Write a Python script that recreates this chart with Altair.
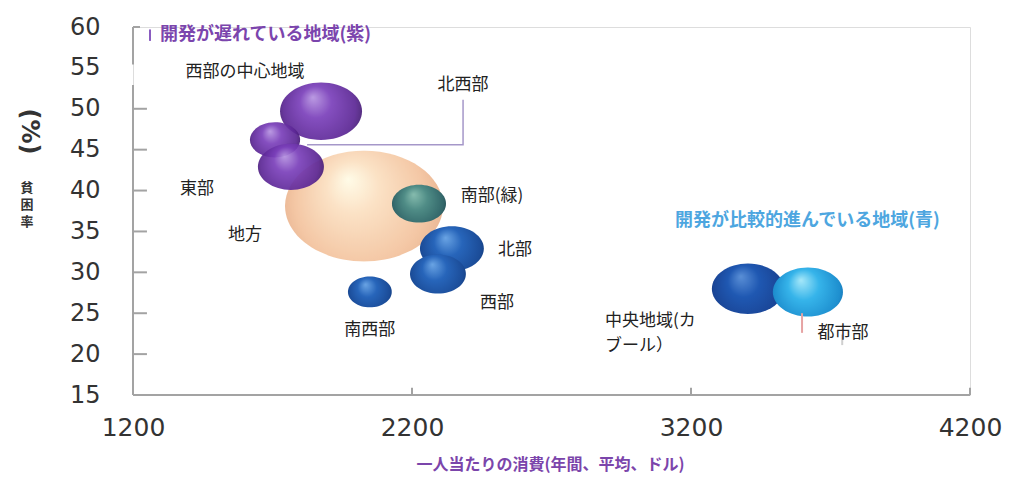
import altair as alt
import pandas as pd

# ---------------- data ----------------
regions = ["西部の中心地域", "北西部", "東部", "地方", "南部(緑)", "北部", "西部", "南西部", "中央地域(カブール)", "都市部"]
consumption = [1874, 1709, 1766, 2028, 2225, 2343, 2293, 2049, 3404, 3619]
poverty = [49.7, 46.2, 42.9, 38.1, 38.4, 32.9, 29.8, 27.6, 28.0, 27.6]
population = [16.8, 6.3, 10.9, 62.4, 7.3, 10.2, 7.8, 4.8, 13.0, 12.3]
group = ["purple", "purple", "purple", "peach", "teal", "blue", "blue", "blue", "navy", "sky"]

label_text = ["西部の中心地域", "北西部", "東部", "地方", "南部(緑)", "北部", "西部", "南西部",
              "中央地域(カ", "ブール）", "都市部"]
label_x = [1601, 2383, 1429, 1601, 2487, 2569, 2505, 2049, 2892, 2892, 3745]
label_y = [54.5, 52.9, 40.2, 34.6, 39.3, 32.7, 26.2, 22.9, 24.1, 21.0, 22.6]
label_align = ["center"] * 8 + ["left", "left", "center"]

x_ticks = [1200, 2200, 3200, 4200]
y_ticks = [15, 20, 25, 30, 35, 40, 45, 50, 55, 60]
y_inner_ticks = [20, 25, 30, 35, 40, 45, 50]
x_inner_ticks = [2200, 3200, 4200]

# leader line for 北西部
leader_x = [1824, 2383, 2383]
leader_y = [45.6, 45.6, 51.1]

df = pd.DataFrame({"region": regions, "x": consumption, "y": poverty,
                   "pop": population, "group": group})
labels = pd.DataFrame({"t": label_text, "x": label_x, "y": label_y, "a": label_align})

# ---------------- styling ----------------
AX = "#a3a3a3"
xscale = alt.Scale(domain=[1200, 4200], nice=False, zero=False)
yscale = alt.Scale(domain=[15, 60], nice=False, zero=False)

xaxis = alt.Axis(values=x_ticks, format="d", domain=False, ticks=False, grid=False,
                 labelFont="DejaVu Sans", labelFontSize=25, labelColor="#333333",
                 labelPadding=20, labelFlush=False,
                 title="一人当たりの消費(年間、平均、ドル)", titleFont="Noto Sans CJK JP",
                 titleFontSize=16, titleFontWeight="bold", titleColor="#7b45ab",
                 titleX=417, titleY=69, titleAlign="center", titleBaseline="middle")
yaxis = alt.Axis(values=y_ticks, format="d", domain=False, ticks=False, grid=False,
                 labelFont="DejaVu Sans", labelFontSize=24, labelColor="#333333",
                 labelPadding=33, labelFlush=False,
                 title="(%)", titleFont="DejaVu Sans", titleFontSize=24,
                 titleFontWeight="bold", titleColor="#333333", titleAngle=90,
                 titleX=-105, titleY=104, titleAlign="center", titleBaseline="middle")


def X(f="x"):
    return alt.X(f"{f}:Q", scale=xscale, axis=xaxis)


def Y(f="y"):
    return alt.Y(f"{f}:Q", scale=yscale, axis=yaxis)


def grad(stops):
    return {"gradient": "radial", "x1": 0.4, "y1": 0.33, "r1": 0,
            "x2": 0.5, "y2": 0.5, "r2": 0.55,
            "stops": [{"offset": o, "color": c} for o, c in stops]}


fills = {
    "peach": grad([(0, "#fffbe6"), (0.3, "#fbe0c2"), (0.75, "#f3c4a0"), (1, "#e6ae8a")]),
    "purple": grad([(0, "#b592e0"), (0.35, "#7a3fba"), (0.8, "#5b2694"), (1, "#3b1765")]),
    "teal": grad([(0, "#86bcae"), (0.4, "#4f8c86"), (0.85, "#33676a"), (1, "#234a50")]),
    "blue": grad([(0, "#6aa4e4"), (0.4, "#2765ba"), (0.85, "#1b4c98"), (1, "#123a78")]),
    "navy": grad([(0, "#5a8fd6"), (0.4, "#1f58b2"), (0.85, "#1a4596"), (1, "#122f70")]),
    "sky": grad([(0, "#a6e8f9"), (0.4, "#36b4ea"), (0.85, "#1e8fcf"), (1, "#1670b0")]),
}
opac = {"peach": 0.95, "purple": 0.92, "teal": 1, "blue": 1, "navy": 1, "sky": 1}
order = ["peach", "purple", "teal", "blue", "navy", "sky"]

ELLIPSE = ("M-1,0 C-1,-0.387 -0.552,-0.7 0,-0.7 C0.552,-0.7 1,-0.387 1,0 "
           "C1,0.387 0.552,0.7 0,0.7 C-0.552,0.7 -1,0.387 -1,0 Z")

base = alt.Chart(df)
size_enc = alt.Size("pop:Q", scale=alt.Scale(domain=[0, 100], range=[0, 40000]), legend=None)

bubble_layers = []
for g in order:
    bubble_layers.append(
        base.transform_filter(alt.datum.group == g)
        .mark_point(filled=True, fill=fills[g], shape=ELLIPSE, opacity=opac[g], strokeWidth=0)
        .encode(x=X(), y=Y(), size=size_enc, tooltip=["region:N", "x:Q", "y:Q"])
    )

# axis segments (custom broken y-axis with bracket, inward ticks)
segs = []
segs.append({"x": 1200, "x2": 4200, "y": 15, "y2": 15})
segs.append({"x": 1200, "x2": 1200, "y": 15, "y2": 52.9})
segs.append({"x": 1200, "x2": 1200, "y": 55.4, "y2": 60})
segs.append({"x": 1200, "x2": 1225, "y": 60, "y2": 60})
for t in y_inner_ticks:
    segs.append({"x": 1200, "x2": 1250, "y": t, "y2": t})
for t in x_inner_ticks:
    segs.append({"x": t, "x2": t, "y": 15, "y2": 15.9})
axis_rules = alt.Chart(pd.DataFrame(segs)).mark_rule(color=AX, strokeWidth=2).encode(
    x=X(), x2="x2:Q", y=Y(), y2="y2:Q")

leader = alt.Chart(pd.DataFrame({"x": leader_x, "y": leader_y, "o": [0, 1, 2]})).mark_line(
    color="#a597c9", strokeWidth=1.5).encode(x=X(), y=Y(), order="o:Q")

small_marks = alt.Chart(pd.DataFrame([
    {"x": 3598, "x2": 3598, "y": 25.0, "y2": 22.6, "c": "#e6a3a3"},
    {"x": 3742, "x2": 3742, "y": 22.4, "y2": 21.1, "c": "#cfcfcf"},
    {"x": 1261, "x2": 1261, "y": 58.3, "y2": 59.7, "c": "#8a5cc0"},
])).mark_rule(strokeWidth=2).encode(x=X(), x2="x2:Q", y=Y(), y2="y2:Q",
                                    color=alt.Color("c:N", scale=None))

label_layers = []
for a in ["center", "left"]:
    label_layers.append(
        alt.Chart(labels).transform_filter(alt.datum.a == a)
        .mark_text(font="Noto Sans CJK JP", fontSize=17, color="#222222", align=a,
                   baseline="middle")
        .encode(x=X(), y=Y(), text="t:N")
    )

notes = pd.DataFrame([
    {"t": "開発が遅れている地域(紫)", "x": 1297, "y": 59.0, "c": "#7b45ad"},
    {"t": "開発が比較的進んでいる地域(青)", "x": 3143, "y": 36.3, "c": "#4da6e0"},
])
note_layer = alt.Chart(notes).mark_text(
    font="Noto Sans CJK JP", fontSize=18, fontWeight="bold", align="left", baseline="middle"
).encode(x=X(), y=Y(), text="t:N", color=alt.Color("c:N", scale=None))

ylabel2 = alt.Chart(pd.DataFrame({"t": ["貧\n困\n率"]})).mark_text(
    font="Noto Sans CJK JP", fontSize=13, fontWeight="bold", color="#333333",
    lineBreak="\n", lineHeight=17, align="center", baseline="middle"
).encode(x=alt.value(-106), y=alt.value(161), text="t:N")

chart = alt.layer(
    axis_rules, leader, *bubble_layers, small_marks, *label_layers, note_layer, ylabel2
).properties(
    width=837, height=368,
    autosize=alt.AutoSizeParams(type="none"),
    padding={"left": 133, "top": 27, "right": 43, "bottom": 83},
).configure_view(stroke=None).configure(background="white")

chart.save("out.html", embed_options={"renderer": "svg", "actions": False})
